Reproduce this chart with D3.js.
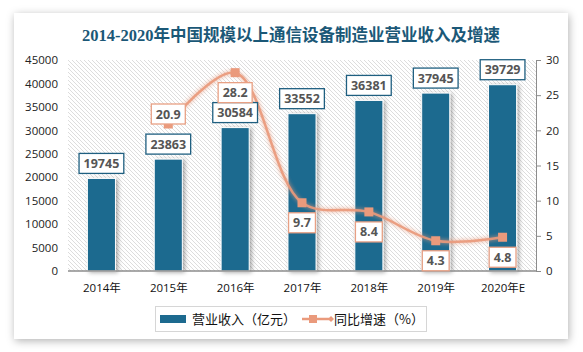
<!DOCTYPE html>
<html>
<head>
<meta charset="utf-8">
<script src="https://cdn.jsdelivr.net/npm/d3@7"></script>
<style>
  html, body { margin: 0; padding: 0; background: #fff; }
  svg { display: block; font-family: "Noto Sans", "Noto Sans CJK SC", sans-serif; }
</style>
</head>
<body>
<svg width="583" height="352"></svg>
<script>
// 2014-2020 通信设备制造业营业收入及增速
const years = ["2014年", "2015年", "2016年", "2017年", "2018年", "2019年", "2020年E"];
const revenue = [19745, 23863, 30584, 33552, 36381, 37945, 39729];
const growth = [null, 20.9, 28.2, 9.7, 8.4, 4.3, 4.8];
const leftTicks = [0, 5000, 10000, 15000, 20000, 25000, 30000, 35000, 40000, 45000];
const rightTicks = [0, 5, 10, 15, 20, 25, 30];

const width = 583, height = 352;
const margin = { top: 60, right: 47, bottom: 81, left: 68 };
const barColor = "#1d6a8f";
const lineColor = "#ea9a7c";

const svg = d3.select("svg").attr("viewBox", [0, 0, width, height]);
const defs = svg.append("defs");

const cardShadow = defs.append("filter").attr("id", "cardShadow")
    .attr("x", "-10%").attr("y", "-10%").attr("width", "120%").attr("height", "120%");
cardShadow.append("feDropShadow").attr("dx", 1).attr("dy", 2)
    .attr("stdDeviation", 4).attr("flood-color", "#000").attr("flood-opacity", 0.3);

const barShadow = defs.append("filter").attr("id", "barShadow")
    .attr("x", "-30%").attr("y", "-10%").attr("width", "160%").attr("height", "120%");
barShadow.append("feDropShadow").attr("dx", 2).attr("dy", 1)
    .attr("stdDeviation", 2).attr("flood-color", "#000").attr("flood-opacity", 0.35);

const glow = defs.append("filter").attr("id", "glow")
    .attr("x", "-10%").attr("y", "-20%").attr("width", "120%").attr("height", "140%");
glow.append("feGaussianBlur").attr("in", "SourceGraphic").attr("stdDeviation", 2).attr("result", "b");
const gm = glow.append("feMerge");
gm.append("feMergeNode").attr("in", "b");
gm.append("feMergeNode").attr("in", "SourceGraphic");

const hatch = defs.append("pattern").attr("id", "hatch")
    .attr("patternUnits", "userSpaceOnUse").attr("width", 4).attr("height", 4);
hatch.append("rect").attr("width", 4).attr("height", 4).attr("fill", "#fff");
hatch.append("path").attr("d", "M-1,-1L5,5M-1,3L1,5M3,-1L5,1")
    .attr("stroke", "#d4d4d4").attr("stroke-width", 0.8);

// card
svg.append("rect")
    .attr("x", 14).attr("y", 13).attr("width", 554).attr("height", 326)
    .attr("fill", "#fff").attr("filter", "url(#cardShadow)");

svg.append("text")
    .attr("x", 291).attr("y", 41)
    .attr("text-anchor", "middle")
    .attr("font-family", "'Liberation Serif', 'Noto Sans CJK SC', serif")
    .attr("font-weight", "bold")
    .attr("font-size", 16.5)
    .attr("fill", "#1b5877")
    .text("2014-2020年中国规模以上通信设备制造业营业收入及增速");

const x = d3.scalePoint()
    .domain(years)
    .range([margin.left, width - margin.right])
    .padding(0.5);
const barW = x.step() * 0.42;

const y = d3.scaleLinear()
    .domain([0, 45000])
    .range([height - margin.bottom, margin.top]);

const y2 = d3.scaleLinear()
    .domain([0, 30])
    .range(y.range());

const plotBottom = y(0);

// hatched plot area
svg.append("rect")
    .attr("x", margin.left).attr("y", margin.top)
    .attr("width", width - margin.right - margin.left)
    .attr("height", plotBottom - margin.top)
    .attr("fill", "url(#hatch)");

// left axis
const gy = svg.append("g")
    .attr("transform", `translate(${margin.left},0)`)
    .call(d3.axisLeft(y).tickValues(leftTicks).tickFormat(d3.format("d")).tickSize(0).tickPadding(10))
    .call(g => g.select(".domain").remove());
gy.selectAll("text").attr("font-size", 11.5).attr("fill", "#222")
    .attr("font-family", "'Open Sans', sans-serif");

// right axis
const gy2 = svg.append("g")
    .attr("transform", `translate(${width - margin.right},0)`)
    .call(d3.axisRight(y2).tickValues(rightTicks).tickSize(5).tickSizeOuter(0).tickPadding(5));
gy2.select(".domain").attr("stroke", "#8c8c8c");
gy2.selectAll("line").attr("stroke", "#8c8c8c");
gy2.selectAll("text").attr("font-size", 11.5).attr("fill", "#222")
    .attr("font-family", "'Open Sans', sans-serif");

// bars
svg.append("g")
    .selectAll("rect")
    .data(revenue)
    .join("rect")
    .attr("x", (d, i) => x(years[i]) - barW / 2)
    .attr("y", d => y(d))
    .attr("width", barW)
    .attr("height", d => plotBottom - y(d))
    .attr("fill", barColor)
    .attr("stroke", "#fff")
    .attr("stroke-width", 1)
    .attr("filter", "url(#barShadow)");

// bottom axis
const gx = svg.append("g")
    .attr("transform", `translate(0,${plotBottom})`)
    .call(d3.axisBottom(x).tickSize(0).tickPadding(13));
gx.select(".domain").attr("stroke", "#8c8c8c").attr("stroke-width", 1.5)
    .attr("d", `M${margin.left},0H${width - margin.right}`);
gx.selectAll("text").attr("font-size", 11.5).attr("fill", "#111")
    .attr("font-family", "'Open Sans', 'Noto Sans CJK SC', sans-serif");

// growth line
const pts = growth.map((v, i) => ({ v, i })).filter(d => d.v != null);
const line = d3.line()
    .x(d => x(years[d.i]))
    .y(d => y2(d.v))
    .curve(d3.curveCatmullRom.alpha(0.5));

svg.append("path")
    .datum(pts)
    .attr("d", line)
    .attr("fill", "none")
    .attr("stroke", lineColor)
    .attr("stroke-width", 2.5)
    .attr("opacity", 0.95)
    .attr("filter", "url(#glow)");

svg.append("g")
    .selectAll("rect")
    .data(pts)
    .join("rect")
    .attr("x", d => x(years[d.i]) - 4.5)
    .attr("y", d => y2(d.v) - 4.5)
    .attr("width", 9).attr("height", 9)
    .attr("fill", lineColor);

// data label boxes
function labelBox(g, cx, cy, txt, stroke) {
    const t = g.append("text")
        .attr("x", cx).attr("y", cy + 4.5)
        .attr("text-anchor", "middle")
        .attr("font-size", 12.5)
        .attr("font-weight", "bold")
        .attr("fill", "#555")
        .attr("font-family", "'Open Sans', sans-serif")
        .text(txt);
    const w = t.node().getComputedTextLength() + 9;
    g.insert("rect", "text")
        .attr("x", cx - w / 2).attr("y", cy - 10)
        .attr("width", w).attr("height", 20)
        .attr("fill", "#fff")
        .attr("stroke", stroke)
        .attr("stroke-width", 1.3);
}

const labels = svg.append("g");
revenue.forEach((v, i) => {
    const g = labels.append("g");
    labelBox(g, x(years[i]), y(v) - 15, String(v), "#1f5f80");
});
pts.forEach(d => {
    const g = labels.append("g");
    const cy = d.i === 1 ? y2(d.v) - 10 : y2(d.v) + 20;
    labelBox(g, x(years[d.i]), cy, d.v.toFixed(1), "#e8a084");
});

// legend
const lg = svg.append("g");
lg.append("rect")
    .attr("x", 155.5).attr("y", 306.5).attr("width", 271).attr("height", 25)
    .attr("fill", "#fff").attr("stroke", "#d6d6d6");
lg.append("rect")
    .attr("x", 160).attr("y", 315).attr("width", 26).attr("height", 8)
    .attr("fill", barColor);
lg.append("text")
    .attr("x", 192).attr("y", 324)
    .attr("font-size", 13).attr("fill", "#111")
    .attr("font-family", "'Noto Sans CJK SC', sans-serif")
    .text("营业收入（亿元）");
lg.append("line")
    .attr("x1", 302).attr("x2", 331).attr("y1", 319).attr("y2", 319)
    .attr("stroke", lineColor).attr("stroke-width", 2.5);
lg.append("rect")
    .attr("x", 309).attr("y", 315).attr("width", 8).attr("height", 8)
    .attr("fill", lineColor);
lg.append("path")
    .attr("d", "M331,316L334,319L331,322L328,319Z")
    .attr("fill", lineColor);
lg.append("text")
    .attr("x", 334).attr("y", 324)
    .attr("font-size", 13).attr("fill", "#111")
    .attr("font-family", "'Noto Sans CJK SC', sans-serif")
    .text("同比增速（%）");
</script>
</body>
</html>
